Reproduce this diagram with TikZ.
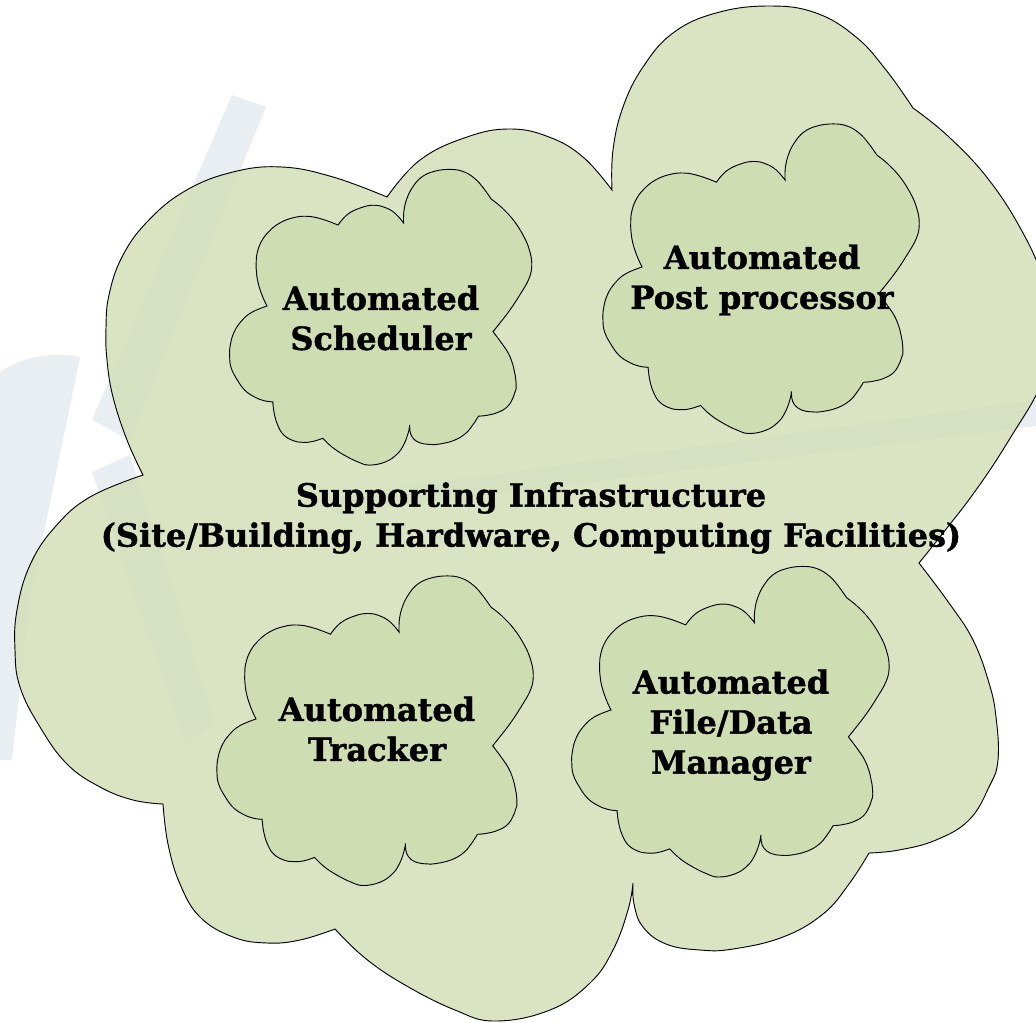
\documentclass[tikz,border=0pt]{standalone}
\usepackage{fontspec}
\newfontfamily\lblfont{DejaVu Serif}[BoldFeatures={FakeBold=1.2}]
\definecolor{cloudfill}{RGB}{209,222,181}
\definecolor{innerfill}{RGB}{207,221,178}
\definecolor{wmark}{RGB}{233,238,243}
\newcommand{\cloudpath}{%
 plot[smooth,tension=0.7] coordinates {(143,475)(127,440)(113,397)(107,360)(106,328)(109,295)(122,257)(147,222)(185,191)(233,172)(282,167)(333,177)(387,197)}
 -- plot[smooth,tension=0.7] coordinates {(387,197)(420,160)(467,137)(510,129)(549,137)(583,157)(612,190)}
 -- plot[smooth,tension=0.7] coordinates {(612,190)(613,150)(623,107)(643,67)(673,33)(716,13)(769,6)(816,13)(856,37)(886,70)(913,108)}
 -- plot[smooth,tension=0.7] coordinates {(913,108)(949,137)(989,180)(1023,233)(1043,280)(1052,330)(1043,380)(1009,440)(976,490)(943,533)(919,563)}
 -- plot[smooth,tension=0.7] coordinates {(919,563)(949,603)(973,640)(989,683)(996,717)(998,760)(989,787)(969,820)(936,840)(899,850)(869,853)}
 -- plot[smooth,tension=0.7] coordinates {(869,853)(849,884)(823,914)(783,937)(733,949)(700,950)(666,944)(643,927)(634,904)(633,883)}
 -- plot[smooth,tension=0.7] coordinates {(633,883)(628,910)(613,950)(590,983)(550,1010)(495,1021)(455,1010)(405,985)(365,958)(335,929)}
 -- plot[smooth,tension=0.7] coordinates {(335,929)(300,940)(267,943)(233,937)(200,917)(180,884)(168,844)(163,804)}
 -- plot[smooth,tension=0.7] coordinates {(163,804)(133,800)(100,787)(67,764)(40,727)(20,687)(15,650)(17,610)(30,565)(55,527)(90,497)(143,475)}
 -- cycle}
\tikzset{
 bigcloud/.style={draw=black, line width=0.7pt, fill=cloudfill, fill opacity=0.8, line join=miter},
 smallcloud/.style={draw=black, line width=0.7pt, fill=innerfill, line join=miter},
 wmshape/.style={fill=wmark, draw=none},
 lbl/.style={font=\lblfont\bfseries\fontsize{24pt}{30pt}\selectfont, align=center, inner sep=0pt, text=black}
}
\begin{document}
\begin{tikzpicture}[x=0.75pt, y=-0.75pt]
\useasboundingbox (0,0) rectangle (1036,1022);
\fill[white] (0,0) rectangle (1036,1022);
\clip (0,0) rectangle (1036,1022);
% faint watermark
\fill[wmshape] (232,95) -- (266,107) -- (130,440) -- (92,420) -- cycle;
\fill[wmshape] (0,372) .. controls (25,355) and (55,352) .. (80,357) -- (30,600) -- (12,760) -- (0,760) -- cycle;
\fill[wmshape] (92,472) -- (130,455) -- (215,722) -- (186,745) -- cycle;
\fill[wmshape] (330,497) -- (1036,400) -- (1036,426) -- (330,515) -- cycle;
% main cloud
\path[bigcloud] \cloudpath;
% inner clouds
\begin{scope}[shift={(225.3,167.65)}, scale=0.2913]
 \path[smallcloud] \cloudpath;
\end{scope}
\begin{scope}[shift={(598.4,122.1)}, scale=0.305]
 \path[smallcloud] \cloudpath;
\end{scope}
\begin{scope}[shift={(212.4,574.1)}, scale=0.305]
 \path[smallcloud] \cloudpath;
\end{scope}
\begin{scope}[shift={(567.2,564.6)}, scale=0.306]
 \path[smallcloud] \cloudpath;
\end{scope}
% labels
\node[lbl] (infra) at (531,518) {Supporting Infrastructure\\(Site/Building, Hardware, Computing Facilities)};
\node[lbl] (sched) at (381,318) {Automated\\Scheduler};
\node[lbl] (post) at (762,280) {Automated\\Post processor};
\node[lbl] (track) at (377,729) {Automated\\Tracker};
\node[lbl] (filedata) at (731,725) {Automated\\File/Data\\Manager};
\end{tikzpicture}
\end{document}
